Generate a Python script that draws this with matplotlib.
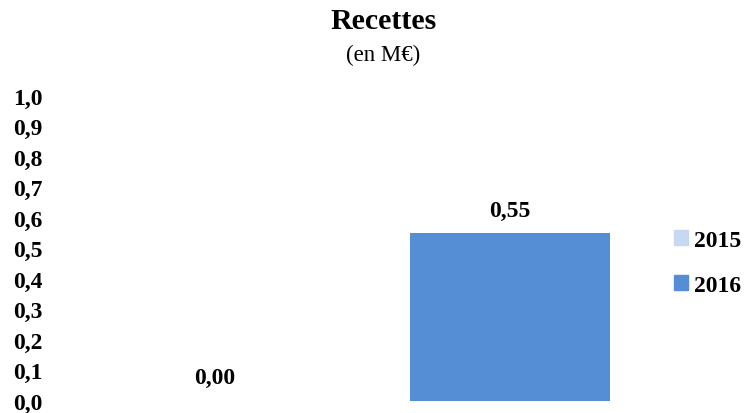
import matplotlib.pyplot as plt
from matplotlib.patches import Patch

years = ["2015", "2016"]
values = [0.00, 0.55]
colors = ["#C6D9F1", "#558ED5"]
yticks = [0.0, 0.1, 0.2, 0.3, 0.4, 0.5, 0.6, 0.7, 0.8, 0.9, 1.0]

plt.rcParams['font.family'] = ['Liberation Serif', 'DejaVu Serif']

fig = plt.figure(figsize=(7.47, 4.14), dpi=100)
ax = fig.add_axes([0.09, 0.03, 0.79, 0.736])

x = list(range(len(years)))
bars = ax.bar(x, values, width=0.68, color=colors)

for xi, v in zip(x, values):
    ax.text(xi, v + 0.04, f"{v:.2f}".replace(".", ","), ha="center", va="bottom",
            fontsize=17, fontweight="bold")

ax.set_xlim(-0.5, 1.5)
ax.set_ylim(0, 1.0)
ax.set_yticks(yticks)
ax.set_yticklabels([f"{t:.1f}".replace(".", ",") for t in yticks],
                   fontsize=17, fontweight="bold")
ax.set_xticks([])
ax.tick_params(axis="y", length=0, pad=18)
for s in ax.spines.values():
    s.set_visible(False)

fig.text(0.513, 0.947, "Recettes", ha="center", va="center", fontsize=21.5, fontweight="bold")
fig.text(0.513, 0.867, "(en M€)", ha="center", va="center", fontsize=16.5)

handles = [Patch(color=c, label=y) for c, y in zip(colors, years)]
leg = fig.legend(handles=handles, loc="center left", bbox_to_anchor=(0.89, 0.363),
                 frameon=False, handlelength=0.6, handleheight=0.6, handletextpad=0.25,
                 labelspacing=1.0, borderaxespad=0, prop={"size": 17, "weight": "bold"})

fig.savefig("out.png", dpi=100)
